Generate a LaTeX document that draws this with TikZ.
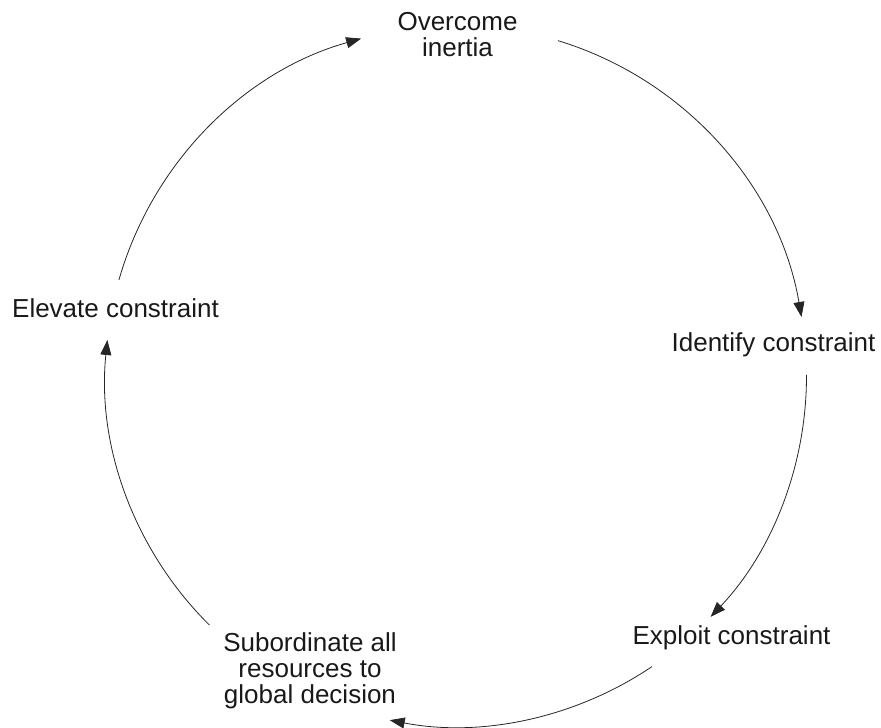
\documentclass[tikz,border=0pt]{standalone}
\usepackage{fontspec}
\setmainfont{Liberation Sans}
\usetikzlibrary{arrows.meta,calc}
\tikzset{
  label/.style={font=\fontsize{26}{26}\selectfont, inner sep=0pt, align=center, text=black!90},
  flow/.style={draw=black!85, line width=0.8pt, -{Triangle[length=15pt,width=11pt]}},
}
\begin{document}
\begin{tikzpicture}[x=1pt,y=1pt]
\useasboundingbox (0,0) rectangle (881,728);
\def\R{350.5pt}
\coordinate (O) at (456,352);
% nodes
\node[label] (over) at (457.5,693.5) {Overcome\\inertia};
\node[label,anchor=base] (ident) at (773.5,376) {Identify constraint};
\node[label,anchor=base] (expl) at (731.5,83) {Exploit constraint};
\node[label] (sub) at (310,57) {Subordinate all\\resources to\\global decision};
\node[label,anchor=base] (elev) at (115.5,410) {Elevate constraint};
% arc end points on the circle
\coordinate (elevOut) at ($(O)+(164.1:\R)$);
\coordinate (overOut) at ($(O)+(73.1:\R)$);
\coordinate (identOut) at ($(O)+(0.2:\R)$);
\coordinate (explOut) at ($(O)+(-56:\R)$);
\coordinate (subOut) at ($(O)+(225.3:\R)$);
% connectors
\draw[flow] (elevOut) arc[start angle=164.1, end angle=105.7, radius=\R];
\draw[flow] (overOut) arc[start angle=73.1, end angle=9.7, radius=\R];
\draw[flow] (identOut) arc[start angle=0.2, end angle=-43.4, radius=\R];
\draw[flow] (explOut) arc[start angle=-56, end angle=-100.9, radius=\R];
\draw[flow] (subOut) arc[start angle=225.3, end angle=174.1, radius=\R];
\end{tikzpicture}
\end{document}
